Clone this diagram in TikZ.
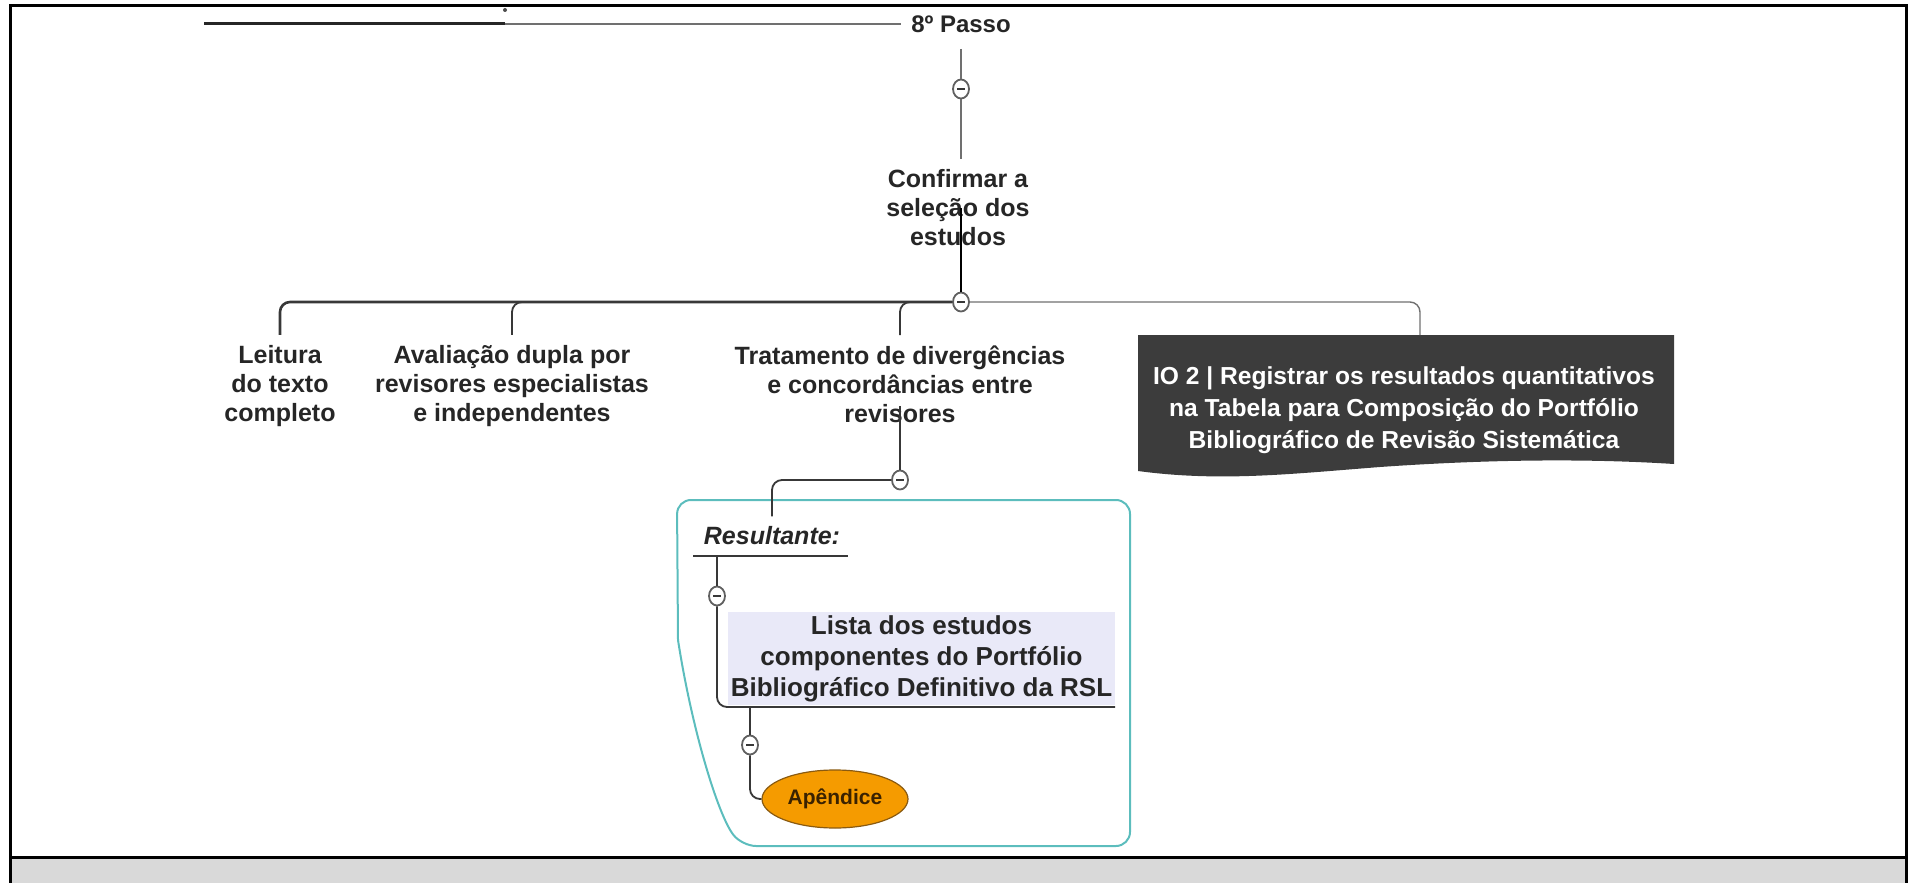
\documentclass[tikz,border=0pt]{standalone}
\usepackage{fontspec}
\setmainfont{Liberation Sans}
\usetikzlibrary{shapes.geometric,calc}
\definecolor{txt}{HTML}{262626}
\definecolor{conn}{HTML}{383838}
\definecolor{connl}{HTML}{707070}
\definecolor{ring}{HTML}{606060}
\definecolor{tealc}{HTML}{5CBDBD}
\definecolor{darkbox}{HTML}{3C3C3C}
\definecolor{lav}{HTML}{E9E9F8}
\definecolor{orangeA}{HTML}{F59B00}
\definecolor{brownA}{HTML}{8A5A10}
\definecolor{brownT}{HTML}{3A2200}
\definecolor{bandgray}{HTML}{D9D9D9}
\begin{document}
\begin{tikzpicture}[x=0.5pt,y=-0.5pt,
  topic/.style={font=\fontsize{12.5pt}{14.5pt}\selectfont\bfseries, text=txt, align=center, inner sep=5pt},
  collapse/.style={ellipse, draw=ring, line width=0.9pt, fill=white, minimum width=8pt, minimum height=9.5pt, inner sep=0pt,
    path picture={\draw[line width=0.9pt, conn] ([xshift=-1.8pt]path picture bounding box.center) -- ([xshift=1.8pt]path picture bounding box.center);}},
  link/.style={draw=conn, line width=0.9pt, rounded corners=5pt},
  linkd/.style={draw=conn, line width=1.3pt, rounded corners=5pt},
  linkl/.style={draw=connl, line width=0.7pt, rounded corners=5pt},
  container/.style={draw=tealc, line width=1pt, rounded corners=7pt},
  frameline/.style={draw=black, line width=1.5pt}
]
\useasboundingbox (0,0) rectangle (1908,883);
% frame and bottom band
\fill[bandgray] (10,857) rectangle (1906,883);
\draw[frameline] (10,883) -- (10,6) -- (1906,6) -- (1906,883);
\draw[frameline] (10,857) -- (1906,857);

% container of the result
\draw[container] (678,640) -- (677,500) -- (1130,500) -- (1130,846) -- (742,846)
  .. controls (718,815) and (692,730) .. (678,640);

% dark flag box
\fill[darkbox] (1138,335) -- (1674,335) -- (1674,464)
  .. controls (1580,458) and (1480,460) .. (1380,467)
  .. controls (1290,474) and (1220,482) .. (1138,471) -- cycle;

% nodes
\coordinate (topA) at (204,24);
\coordinate (topB) at (505,24);
\node[topic, font=\fontsize{12pt}{14pt}\selectfont\bfseries] (passo) at (961,24) {8º Passo};
\node[collapse] (c1) at (961,89) {};
\node[topic] (conf) at (958,208) {Confirmar a\\seleção dos\\estudos};
\node[collapse] (c2) at (961,302) {};
\node[topic] (leit) at (280,386) {Leitura\\do texto\\completo};
\node[topic] (aval) at (512,386) {Avaliação dupla por\\revisores especialistas\\e independentes};
\node[topic] (trat) at (900,384) {Tratamento de divergências\\e concordâncias entre\\revisores};
\node[topic, text=white, font=\fontsize{12.3pt}{16pt}\selectfont\bfseries] (io) at (1404,410)
  {IO 2 | Registrar os resultados quantitativos\\na Tabela para Composição do Portfólio\\Bibliográfico de Revisão Sistemática};
\coordinate (ioTop) at (1420,335);
\node[collapse] (c3) at (900,480) {};
\node[topic, font=\fontsize{12.5pt}{14.5pt}\selectfont\bfseries\itshape] (res) at (772,536) {Resultante:};
\coordinate (resL) at (693,556);
\coordinate (resR) at (848,556);
\node[collapse] (c4) at (717,596) {};
\node[fill=lav, minimum width=193.5pt, minimum height=46.5pt, inner sep=0pt,
  font=\fontsize{13pt}{15.5pt}\selectfont\bfseries, text=txt, align=center] (lista) at (921.5,658.5)
  {Lista dos estudos\\componentes do Portfólio\\Bibliográfico Definitivo da RSL};
\coordinate (listaL) at (725,707);
\coordinate (listaR) at (1115,707);
\node[collapse] (c5) at (750,745) {};
\node[ellipse, fill=orangeA, draw=brownA, line width=0.6pt, minimum width=73pt, minimum height=29pt, inner sep=0pt,
  font=\fontsize{10.5pt}{12pt}\selectfont\bfseries, text=brownT] (ape) at (835,799) {Apêndice};

% connectors
\fill[black!70] (505,10) circle (1pt);
\draw[black!85, line width=1.5pt] (topA) -- (topB);
\draw[linkl] (topB) -- (passo.west);
\draw[linkl, shorten <=3pt] (passo.south) -- (c1.north);
\draw[linkl] (c1.south) -- (c1 |- conf.north);
\draw[black, line width=1.1pt] (conf.center -| c2) -- (c2.north);
\draw[linkd] (c2.west) -| (leit.north);
\draw[link] (c2.west) -| (aval.north);
\draw[link] (c2.west) -| (trat.north);
\draw[linkl] (c2.east) -| (ioTop);
\draw[link] ($(trat.south -| c3)+(0,-27)$) -- (c3.north);
\draw[link] (c3.west) -| (res.north);
\draw[link] (resL) -- (resR);
\draw[link] (c4 |- resL) -- (c4.north);
\draw[link] (c4.south) |- (listaR);
\draw[link] (c5 |- listaL) -- (c5.north);
\draw[link] (c5.south) |- (ape.west);
\end{tikzpicture}
\end{document}
